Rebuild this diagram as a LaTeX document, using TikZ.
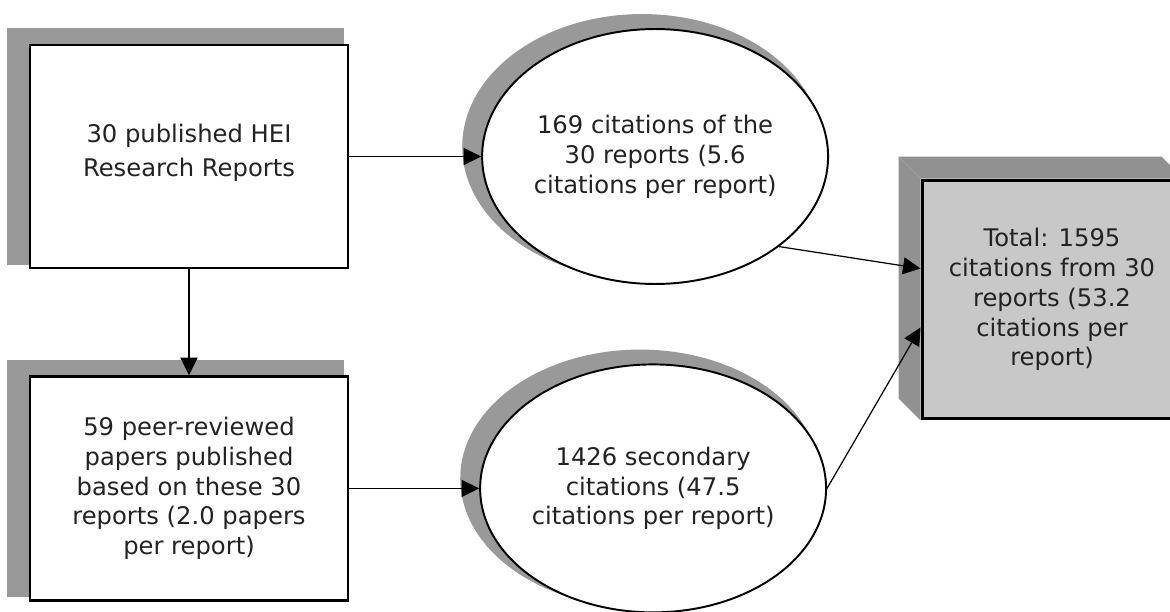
\documentclass[tikz,border=0pt]{standalone}
\usepackage{fontspec}
\setmainfont{DejaVu Sans}
\usepackage{tikz}
\usetikzlibrary{arrows.meta, positioning, shapes.geometric, shadows, backgrounds}

\definecolor{shadowgray}{RGB}{153,153,153}
\definecolor{facegray}{RGB}{200,200,200}
\definecolor{sidegray}{RGB}{145,145,145}
\definecolor{textgray}{RGB}{34,34,34}

\begin{document}
\begin{tikzpicture}[
    x=0.02cm, y=-0.02cm,
    font=\fontsize{13.8}{17}\selectfont, text=textgray,
    grayshadow/.style={drop shadow={shadow scale=#1, shadow xshift=-0.25cm, shadow yshift=0.19cm, fill=shadowgray, opacity=1}},
    repbox/.style={rectangle, draw=black, line width=1.4pt, fill=white, minimum width=6.36cm, minimum height=4.46cm, align=center, grayshadow=1.06},
    citell/.style={ellipse, draw=black, line width=1.1pt, fill=white, inner sep=0pt, minimum width=6.92cm, minimum height=5.1cm, align=center, grayshadow=1.04},
    totalbox/.style={rectangle, draw=black, line width=1.7pt, fill=facegray, minimum width=5.2cm, minimum height=4.78cm, align=center},
    arrow/.style={-{Triangle[length=0.35cm, width=0.34cm]}, line width=0.7pt}]
    \useasboundingbox (0,0) rectangle (1170,612);

    % reports and papers (left)
    \node[repbox] (hei) at (189,156.5) {30 published HEI\\[2pt]Research Reports\\[-10pt]};
    \node[repbox, below=2.12cm of hei, minimum height=4.48cm] (papers) {59 peer-reviewed\\papers published\\based on these 30\\reports (2.0 papers\\per report)};

    % citations (middle)
    \node[citell, right=2.64cm of hei] (cite) {169 citations of the\\30 reports (5.6\\citations per report)};
    \node[citell, right=2.6cm of papers, minimum height=4.96cm] (second) {1426 secondary\\citations (47.5\\citations per report)};

    % total (right)
    \node[totalbox] (total) at (1052,299.5) {Total: 1595\\citations from 30\\reports (53.2\\citations per\\report)};
    \begin{scope}[on background layer]
    \fill[sidegray] (total.north west) -- ([shift={(-22,-22)}]total.north west)
        -- ([shift={(-22,-22)}]total.south west) -- (total.south west) -- cycle;
    \fill[sidegray] (total.north west) -- ([shift={(-22,-22)}]total.north west)
        -- ([shift={(-22,-22)}]total.north east) -- (total.north east) -- cycle;
    \end{scope}

    \draw[arrow] (hei) -- (cite);
    \draw[arrow] (hei) -- (papers);
    \draw[arrow] (papers) -- (second);
    \draw[arrow] (cite.-36) -- ([yshift=0.62cm]total.west);
    \draw[arrow] (second.east) -- ([yshift=-0.56cm]total.west);
\end{tikzpicture}
\end{document}
